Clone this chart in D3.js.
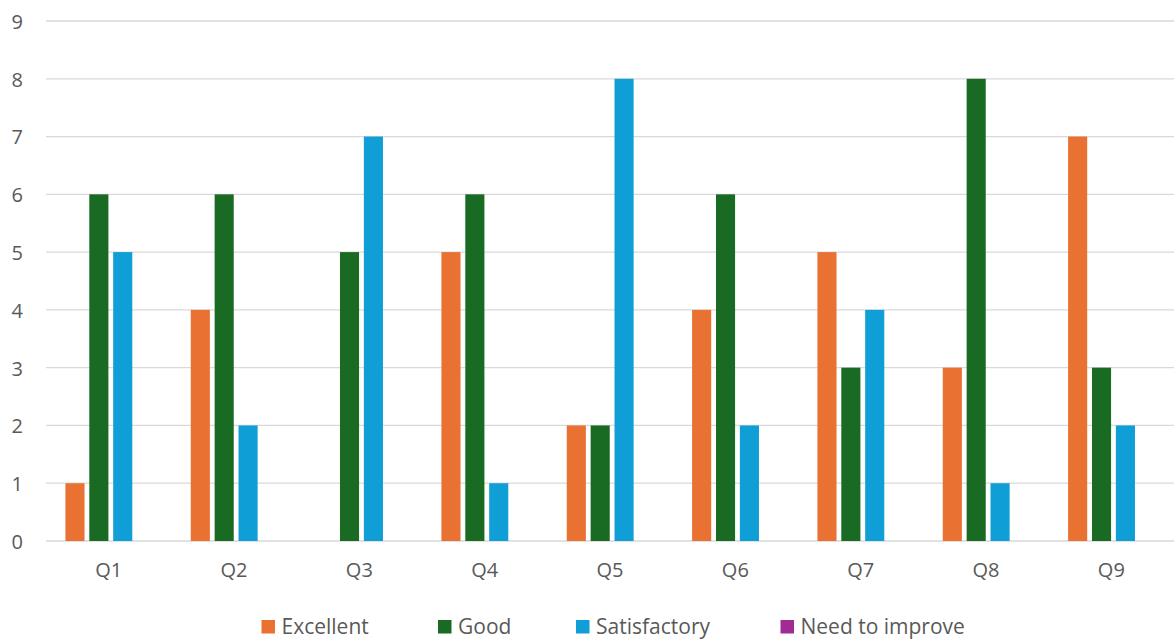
<!DOCTYPE html>
<html><head><meta charset="utf-8">
<script src="https://cdn.jsdelivr.net/npm/d3@7"></script>
<style>
body{margin:0;background:#fff;}
svg{display:block;}
</style></head>
<body>
<svg id="chart" width="1174" height="641"></svg>
<script>
const categories = ["Q1","Q2","Q3","Q4","Q5","Q6","Q7","Q8","Q9"];
const seriesNames = ["Excellent","Good","Satisfactory","Need to improve"];
const excellent = [1,4,0,5,2,4,5,3,7];
const good = [6,6,5,6,2,6,3,8,3];
const satisfactory = [5,2,7,1,8,2,4,1,2];
const needToImprove = [0,0,0,0,0,0,0,0,0];
const yTicks = [0,1,2,3,4,5,6,7,8,9];
const colors = ["#E97132","#196B24","#0F9ED5","#A02B93"];

(function(){
const seriesValues = [excellent, good, satisfactory, needToImprove];
const svg = d3.select("#chart");
const pLeft = 46, pRight = 1174, pTop = 21, pBottom = 541;
const font = "'Open Sans', sans-serif";

const x = d3.scaleBand().domain(categories).range([pLeft, pRight]).paddingInner(0).paddingOuter(0);
const y = d3.scaleLinear().domain([0, 9]).range([pBottom, pTop]);
const bw = x.bandwidth();
const x1 = d3.scaleBand().domain(seriesNames).range([bw*0.155, bw*0.155 + 4*bw*0.181]).paddingInner(0.2);

// gridlines
svg.append("g").selectAll("line").data(yTicks).join("line")
  .attr("x1", pLeft).attr("x2", pRight)
  .attr("y1", d => y(d)).attr("y2", d => y(d))
  .attr("stroke", "#D9D9D9").attr("stroke-width", 1.3);

// y axis labels
const yAxis = d3.axisLeft(y).tickValues(yTicks).tickSize(0).tickPadding(0);
const gy = svg.append("g").attr("transform", "translate(23,0)").call(yAxis);
gy.select(".domain").remove();
gy.selectAll("text").attr("font-family", font).attr("font-size", 20).attr("fill", "#595959").attr("dy", "0.37em");

// x axis labels
const xAxis = d3.axisBottom(x).tickSize(0).tickPadding(0);
const gx = svg.append("g").attr("transform", "translate(0,577)").call(xAxis);
gx.select(".domain").remove();
gx.selectAll("text").attr("font-family", font).attr("font-size", 20).attr("fill", "#595959").attr("dy", 0);

// bars
const groups = svg.append("g").selectAll("g").data(categories).join("g")
  .attr("transform", d => `translate(${x(d)},0)`);
groups.selectAll("rect").data((d, i) => seriesNames.map((s, j) => ({s, j, v: seriesValues[j][i]})))
  .join("rect")
  .attr("x", d => x1(d.s))
  .attr("width", x1.bandwidth())
  .attr("y", d => y(d.v))
  .attr("height", d => y(0) - y(d.v))
  .attr("fill", d => colors[d.j]);

// legend
const legendX = [261.5, 438, 576, 780.5];
const lg = svg.append("g").selectAll("g").data(seriesNames).join("g")
  .attr("transform", (d, i) => `translate(${legendX[i]},620)`);
lg.append("rect").attr("width", 13.5).attr("height", 13.5).attr("fill", (d, i) => colors[i]);
lg.append("text").attr("x", 20).attr("y", 13.5)
  .attr("font-family", font)
  .attr("font-size", 21).attr("fill", "#595959").text(d => d);
})();
</script>
</body></html>
